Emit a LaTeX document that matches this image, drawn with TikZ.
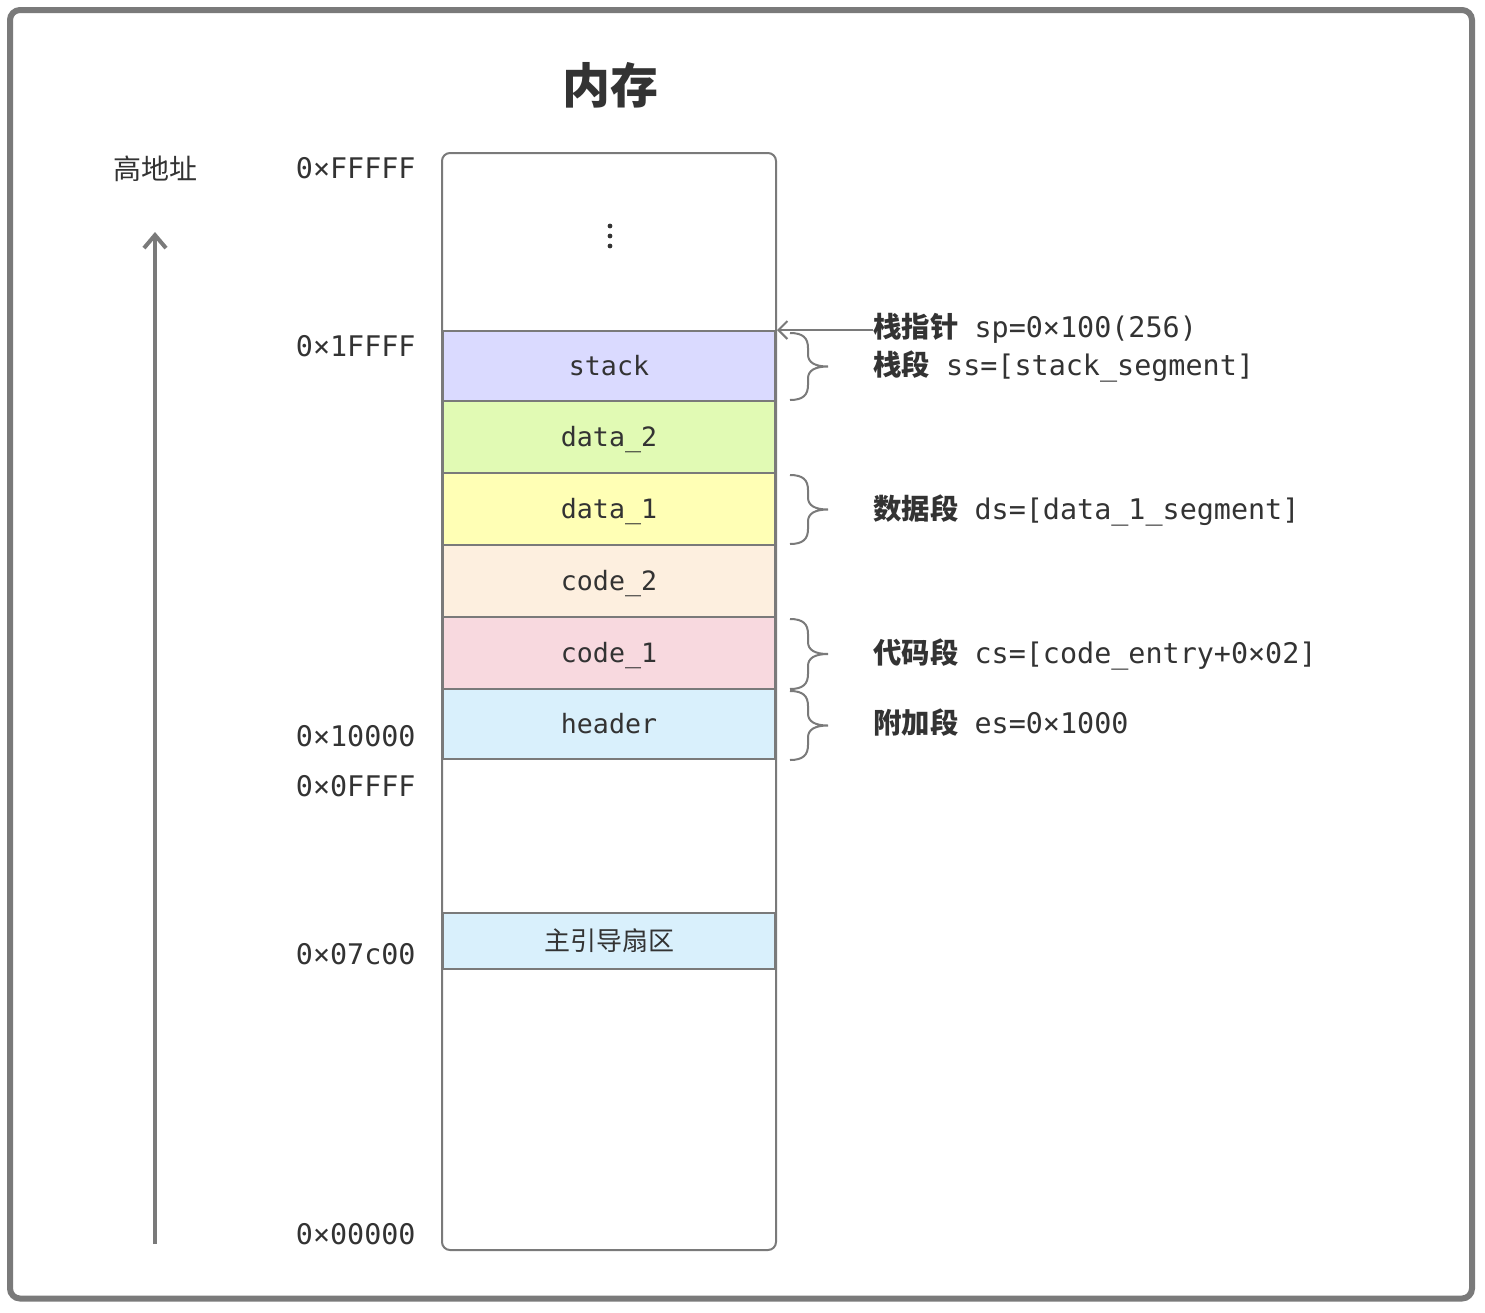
\documentclass[tikz,border=0pt]{standalone}
\usepackage{fontspec}
\setmonofont{DejaVu Sans Mono}
\newfontfamily\cjk{Noto Sans CJK SC}
\usetikzlibrary{arrows.meta}
\definecolor{ln}{HTML}{7A7A7A}
\definecolor{tx}{HTML}{333333}
\definecolor{cStack}{HTML}{DADAFF}
\definecolor{cDataB}{HTML}{E1FAB4}
\definecolor{cDataA}{HTML}{FFFFB5}
\definecolor{cCodeB}{HTML}{FDEFDF}
\definecolor{cCodeA}{HTML}{F8D9DF}
\definecolor{cHead}{HTML}{D9F0FC}
\newcommand\seglbl[2]{{\cjk\bfseries #1}\hspace{8pt}\texttt{#2}}
\newcommand\segbrace[2]{%
  \pgfmathsetmacro\bm{(#1+#2)/2}%
  \draw[brc] (790,#1) .. controls (803,#1) and (808,{#1+5}) .. (808,{#1+15})
    -- (808,{\bm-12}) .. controls (808,{\bm-4}) and (815,\bm) .. (828,\bm)
    .. controls (815,\bm) and (808,{\bm+4}) .. (808,{\bm+12})
    -- (808,{#2-15}) .. controls (808,{#2-5}) and (803,#2) .. (790,#2);}
\begin{document}
\begin{tikzpicture}[x=0.5pt,y=-0.5pt,
  seg/.style={draw=ln, line width=1pt, minimum width=166pt, inner sep=0pt,
    font=\ttfamily\fontsize{13.3}{16}\selectfont, text=tx, text height=9.7pt, text depth=0pt},
  addr/.style={anchor=base east, inner sep=0pt, text=tx, font=\ttfamily\fontsize{14.2}{17}\selectfont},
  rlbl/.style={anchor=base west, inner sep=0pt, text=tx, font=\fontsize{14.2}{17}\selectfont},
  brc/.style={draw=ln, line width=1pt},
]
\useasboundingbox (0,0) rectangle (1485,1313);
\draw[ln, line width=3pt, rounded corners=5pt] (10,10) rectangle (1472,1298.5);

\node[text=tx, font=\cjk\bfseries\fontsize{24}{28}\selectfont, inner sep=0pt] (title) at (610,85) {内存};
\node[text=tx, font=\cjk\fontsize{14}{17}\selectfont, inner sep=0pt] (high) at (155,169) {高地址};

\coordinate (arrbot) at (155,1244);
\coordinate (arrtop) at (155,232);
\draw[ln, line width=2pt, -{Straight Barb[length=6.5pt,width=11pt]}] (arrbot) -- (arrtop);

\node[draw=ln, line width=1pt, rounded corners=4pt, minimum width=167pt, minimum height=548.5pt, inner sep=0pt] (mem) at (609,701.5) {};

\fill[tx] (610,226) circle[radius=1.2pt] (610,236) circle[radius=1.2pt] (610,246) circle[radius=1.2pt];

\node[seg, fill=cStack, minimum height=35pt] (stack) at (609,366) {stack};
\node[seg, fill=cDataB, minimum height=36pt] (data2) at (609,437) {data\_2};
\node[seg, fill=cDataA, minimum height=36pt] (data1) at (609,509) {data\_1};
\node[seg, fill=cCodeB, minimum height=36pt] (code2) at (609,581) {code\_2};
\node[seg, fill=cCodeA, minimum height=36pt] (code1) at (609,653) {code\_1};
\node[seg, fill=cHead, minimum height=35pt] (header) at (609,724) {header};
\node[seg, fill=cHead, minimum height=28pt, font=\cjk\fontsize{13}{16}\selectfont] (mbr) at (609,941) {主引导扇区};

\node[addr] (aF) at (416,178.5) {0×FFFFF};
\node[addr] (a1F) at (416,356.5) {0×1FFFF};
\node[addr] (a10) at (416,746.5) {0×10000};
\node[addr] (a0F) at (416,796.5) {0×0FFFF};
\node[addr] (a7c) at (416,964.5) {0×07c00};
\node[addr] (a00) at (416,1244.5) {0×00000};

\node[rlbl] (sp) at (873,337.5) {\seglbl{栈指针}{sp=0×100(256)}};
\node[rlbl] (ss) at (873,375.5) {\seglbl{栈段}{ss=[stack\_segment]}};
\node[rlbl] (ds) at (873,519.5) {\seglbl{数据段}{ds=[data\_1\_segment]}};
\node[rlbl] (cs) at (873,663.5) {\seglbl{代码段}{cs=[code\_entry+0×02]}};
\node[rlbl] (es) at (873,733.5) {\seglbl{附加段}{es=0×1000}};

\draw[ln, line width=1pt, -{Straight Barb[length=4.5pt,width=9pt]}] (sp.west |- stack.north) -- (mem.east |- stack.north);

\segbrace{333}{400}
\segbrace{475}{544}
\segbrace{619}{689}
\segbrace{691}{760}
\end{tikzpicture}
\end{document}
